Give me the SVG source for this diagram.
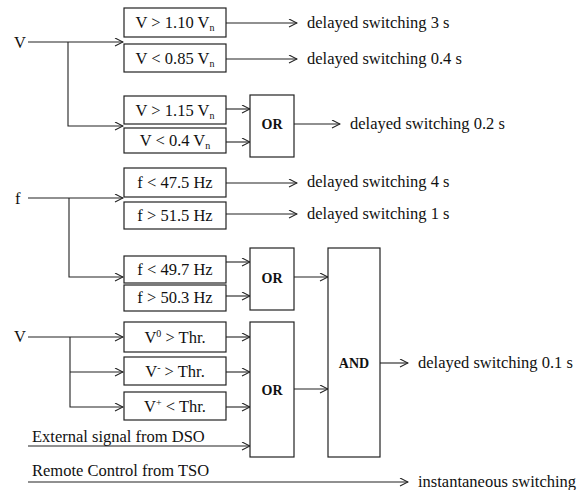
<svg xmlns="http://www.w3.org/2000/svg" width="588" height="490" viewBox="0 0 588 490">
<style>
  .bx { fill: #fff; stroke: #222; stroke-width: 1.2; }
  .ln { fill: none; stroke: #222; stroke-width: 1.1; }
  .ar { marker-end: url(#arr); }
  text { font-family: "Liberation Serif", "Times New Roman", serif; font-size: 16.5px; fill: #111; }
  .c { text-anchor: middle; }
  .g { font-size: 14px; font-weight: bold; text-anchor: middle; }
  .sub { font-size: 10px; }
</style>
<defs>
  <marker id="arr" markerWidth="10" markerHeight="10" refX="9" refY="4.5" orient="auto" markerUnits="userSpaceOnUse">
    <path d="M1,0.5 L9,4.5 L1,8.5" fill="none" stroke="#222" stroke-width="1.1"/>
  </marker>
</defs>

<g id="connectors">
  <!-- V input 1 -->
  <path class="ln ar" d="M28,42 H123"/>
  <path class="ln ar" d="M68,42 V126 H123"/>
  <path class="ln ar" d="M226,23 H297"/>
  <path class="ln ar" d="M226,59 H297"/>
  <path class="ln ar" d="M226,109 H250"/>
  <path class="ln ar" d="M226,142 H250"/>
  <path class="ln ar" d="M294,124 H340"/>
  <!-- f input -->
  <path class="ln ar" d="M28,198 H123"/>
  <path class="ln ar" d="M69,198 V277 H123"/>
  <path class="ln ar" d="M226,183 H297"/>
  <path class="ln ar" d="M226,214 H297"/>
  <path class="ln ar" d="M226,262 H250"/>
  <path class="ln ar" d="M226,296 H250"/>
  <path class="ln ar" d="M294,277 H328"/>
  <!-- V input 2 -->
  <path class="ln ar" d="M28,337 H123"/>
  <path class="ln ar" d="M70,337 V407 H123"/>
  <path class="ln ar" d="M70,372 H123"/>
  <path class="ln ar" d="M226,337 H250"/>
  <path class="ln ar" d="M226,372 H250"/>
  <path class="ln ar" d="M226,407 H250"/>
  <path class="ln ar" d="M28,446 H250"/>
  <path class="ln ar" d="M294,389 H328"/>
  <path class="ln ar" d="M380,363 H408"/>
  <path class="ln ar" d="M28,482 H408"/>
</g>

<g id="labels">
  <text x="14" y="48">V</text>
  <text x="15" y="204">f</text>
  <text x="14" y="342">V</text>
  <text x="307" y="28">delayed switching 3 s</text>
  <text x="307" y="64">delayed switching 0.4 s</text>
  <text x="350" y="129">delayed switching 0.2 s</text>
  <text x="307" y="187">delayed switching 4 s</text>
  <text x="307" y="219">delayed switching 1 s</text>
  <text x="418" y="368">delayed switching 0.1 s</text>
  <text x="32" y="442">External signal from DSO</text>
  <text x="32" y="476">Remote Control from TSO</text>
  <text x="418" y="487">instantaneous switching</text>
</g>

<g id="n1"><rect class="bx" x="124" y="8" width="102" height="29"/><text class="c" x="175" y="28">V &gt; 1.10 V<tspan class="sub" dy="3">n</tspan></text></g>
<g id="n2"><rect class="bx" x="124" y="44" width="102" height="28"/><text class="c" x="175" y="64">V &lt; 0.85 V<tspan class="sub" dy="3">n</tspan></text></g>
<g id="n3"><rect class="bx" x="124" y="96" width="102" height="28"/><text class="c" x="175" y="116">V &gt; 1.15 V<tspan class="sub" dy="3">n</tspan></text></g>
<g id="n4"><rect class="bx" x="124" y="128" width="102" height="25"/><text class="c" x="175" y="146">V &lt; 0.4 V<tspan class="sub" dy="3">n</tspan></text></g>
<g id="or1"><rect class="bx" x="250" y="95" width="44" height="62"/><text class="g" x="272" y="129">OR</text></g>

<g id="n5"><rect class="bx" x="124" y="168" width="102" height="29"/><text class="c" x="175" y="188">f &lt; 47.5 Hz</text></g>
<g id="n6"><rect class="bx" x="124" y="202" width="102" height="27"/><text class="c" x="175" y="221">f &gt; 51.5 Hz</text></g>
<g id="n7"><rect class="bx" x="124" y="256" width="102" height="27"/><text class="c" x="175" y="275">f &lt; 49.7 Hz</text></g>
<g id="n8"><rect class="bx" x="124" y="285" width="102" height="26"/><text class="c" x="175" y="303">f &gt; 50.3 Hz</text></g>
<g id="or2"><rect class="bx" x="250" y="248" width="44" height="62"/><text class="g" x="272" y="283">OR</text></g>

<g id="and"><rect class="bx" x="328" y="248" width="52" height="209"/><text class="g" x="354" y="368">AND</text></g>

<g id="n9"><rect class="bx" x="124" y="322" width="102" height="30"/><text class="c" x="175" y="343">V<tspan class="sub" dy="-6">0</tspan><tspan dy="6"> &gt; Thr.</tspan></text></g>
<g id="n10"><rect class="bx" x="124" y="357" width="102" height="28"/><text class="c" x="175" y="377">V<tspan class="sub" dy="-6">-</tspan><tspan dy="6"> &gt; Thr.</tspan></text></g>
<g id="n11"><rect class="bx" x="124" y="392" width="102" height="28"/><text class="c" x="175" y="412">V<tspan class="sub" dy="-6">+</tspan><tspan dy="6"> &lt; Thr.</tspan></text></g>
<g id="or3"><rect class="bx" x="250" y="322" width="44" height="135"/><text class="g" x="272" y="395">OR</text></g>
</svg>
